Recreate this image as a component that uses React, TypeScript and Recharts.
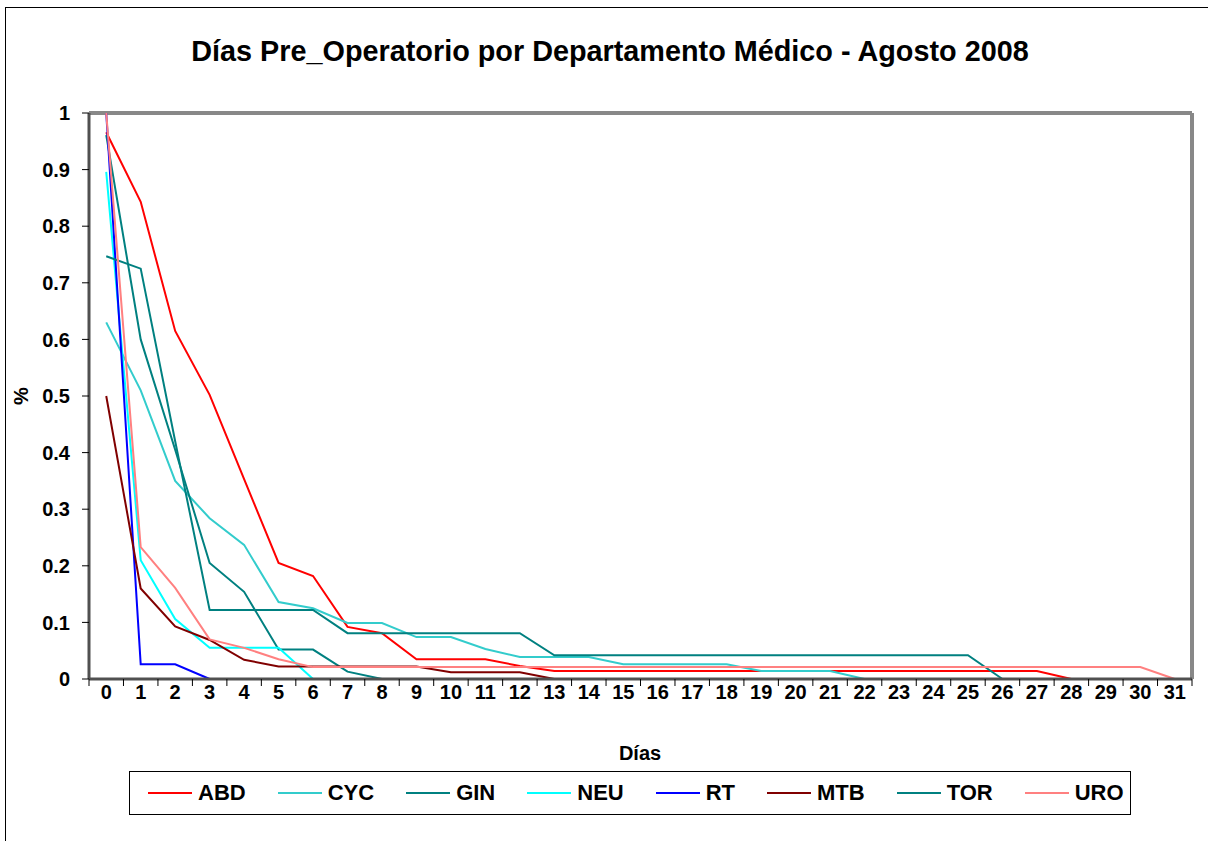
import React from 'react';
import { LineChart, Line, XAxis, YAxis, Legend, ReferenceLine } from 'recharts';

// días 0..31
const days = Array.from({ length: 32 }, (_, i) => i);
const yTicks = [0, 0.1, 0.2, 0.3, 0.4, 0.5, 0.6, 0.7, 0.8, 0.9, 1];

const n = (k: number) => Array(k).fill(null);
const rep = (v: number, k: number) => Array(k).fill(v);

// fracción de pacientes por día
const abd = [0.966, 0.843, 0.615, 0.502, 0.353, 0.205, 0.182, 0.092, 0.081, 0.035, 0.035, 0.035, 0.023, ...rep(0.014, 15), 0, ...n(3)];
const cyc = [0.63, 0.51, 0.35, 0.284, 0.237, 0.136, 0.125, 0.099, 0.099, 0.074, 0.074, 0.053, 0.039, 0.039, 0.039, 0.026, 0.026, 0.026, 0.026, 0.014, 0.014, 0.014, 0, ...n(9)];
const gin = [0.961, 0.6, 0.405, 0.205, 0.154, 0.052, 0.052, 0.013, 0, ...n(23)];
const neu = [0.896, 0.21, 0.106, 0.055, 0.055, 0.055, 0, ...n(25)];
const rt = [1, 0.026, 0.026, 0, ...n(28)];
const mtb = [0.5, 0.16, 0.093, 0.069, 0.034, 0.022, 0.022, 0.022, 0.022, 0.022, 0.012, 0.012, 0.012, 0, ...n(18)];
const tor = [0.747, 0.725, 0.42, 0.122, 0.122, 0.122, 0.122, 0.081, 0.081, 0.081, 0.081, 0.081, 0.081, ...rep(0.042, 13), 0, ...n(5)];
const uro = [1, 0.233, 0.161, 0.07, 0.055, 0.035, ...rep(0.021, 25), 0];

const series = [
  { name: 'ABD', values: abd, color: '#FF0000' },
  { name: 'CYC', values: cyc, color: '#33CCCC' },
  { name: 'GIN', values: gin, color: '#008080' },
  { name: 'NEU', values: neu, color: '#00FFFF' },
  { name: 'RT', values: rt, color: '#0000FF' },
  { name: 'MTB', values: mtb, color: '#800000' },
  { name: 'TOR', values: tor, color: '#008080' },
  { name: 'URO', values: uro, color: '#FF8080' },
];
const order = series.map((s) => s.name);

const data = days.map((d, i) => {
  const row: Record<string, number | null> = { day: d };
  series.forEach((s) => (row[s.name] = s.values[i]));
  return row;
});

const font = '"Liberation Sans", Arial, sans-serif';
const tickFont = { fill: '#000', fontSize: 20, fontWeight: 'bold', fontFamily: font };
const TICK_MARGIN = 6;

// etiqueta del día + marca en el límite izquierdo de su categoría (y derecho en la última)
const DayTick = (props: any) => {
  const { x, y, width, payload, index } = props;
  const half = width / days.length / 2;
  const y0 = y - TICK_MARGIN;
  return (
    <g>
      <line x1={x - half} x2={x - half} y1={y0} y2={y0 + 7} stroke="#000" />
      {index === days.length - 1 && <line x1={x + half} x2={x + half} y1={y0} y2={y0 + 7} stroke="#000" />}
      <text x={x} y={y} dy="0.71em" textAnchor="middle" {...tickFont}>
        {payload.value}
      </text>
    </g>
  );
};

const LegendBox = (props: any) => {
  const items = [...(props.payload || [])].sort(
    (a: any, b: any) => order.indexOf(a.value) - order.indexOf(b.value)
  );
  return (
    <div
      style={{
        boxSizing: 'border-box',
        height: 44,
        border: '1px solid #000',
        display: 'flex',
        alignItems: 'center',
        gap: 32,
        paddingLeft: 18,
        fontFamily: font,
        fontWeight: 'bold',
        fontSize: 22,
        background: '#fff',
      }}
    >
      {items.map((p: any) => (
        <div key={p.value} style={{ display: 'flex', alignItems: 'center' }}>
          <svg width={44} height={6} style={{ marginRight: 6 }}>
            <line x1={0} y1={3} x2={44} y2={3} stroke={p.color} strokeWidth={2} />
          </svg>
          <span>{p.value}</span>
        </div>
      ))}
    </div>
  );
};

export default function App() {
  return (
    <div
      style={{
        position: 'fixed',
        left: 0,
        top: 0,
        width: 1208,
        height: 841,
        overflow: 'hidden',
        background: '#fff',
        fontFamily: font,
      }}
    >
      <div
        style={{
          position: 'absolute',
          left: 5,
          top: 7,
          width: 1300,
          height: 900,
          border: '1px solid #000',
        }}
      />
      <div style={{ position: 'absolute', left: 0, top: 0 }}>
        <LineChart width={1208} height={841} data={data} margin={{ top: 113, right: 16, left: 29, bottom: 78 }}>
          <text x={610} y={61} textAnchor="middle" fontSize={28.8} fontWeight="bold" fontFamily={font} fill="#000">
            Días Pre_Operatorio por Departamento Médico - Agosto 2008
          </text>
          <text
            x={21}
            y={396}
            textAnchor="middle"
            dominantBaseline="central"
            fontSize={20}
            fontWeight="bold"
            fontFamily={font}
            fill="#000"
            transform="rotate(-90 21 396)"
          >
            %
          </text>
          <text x={640} y={760} textAnchor="middle" fontSize={20} fontWeight="bold" fontFamily={font} fill="#000">
            Días
          </text>
          <XAxis
            dataKey="day"
            type="number"
            domain={[-0.5, 31.5]}
            allowDataOverflow
            ticks={days}
            interval={0}
            height={40}
            tickSize={0}
            tickMargin={TICK_MARGIN}
            axisLine={{ stroke: '#505050', strokeWidth: 3 }}
            tickLine={false}
            tick={<DayTick />}
          />
          <YAxis
            type="number"
            domain={[0, 1]}
            ticks={yTicks}
            interval={0}
            width={60}
            tickSize={7}
            tickMargin={12}
            axisLine={{ stroke: '#505050', strokeWidth: 3 }}
            tickLine={{ stroke: '#000', strokeWidth: 1 }}
            tick={tickFont}
          />
          <ReferenceLine y={1} stroke="#888" strokeWidth={4} />
          <ReferenceLine x={31.5} stroke="#888" strokeWidth={4} />
          {series.map((s) => (
            <Line
              key={s.name}
              type="linear"
              dataKey={s.name}
              name={s.name}
              stroke={s.color}
              strokeWidth={2}
              dot={false}
              activeDot={false}
              isAnimationActive={false}
            />
          ))}
          <Legend
            verticalAlign="bottom"
            content={<LegendBox />}
            wrapperStyle={{ position: 'absolute', left: 129, top: 771, bottom: 'auto', width: 1002 }}
          />
        </LineChart>
      </div>
    </div>
  );
}
